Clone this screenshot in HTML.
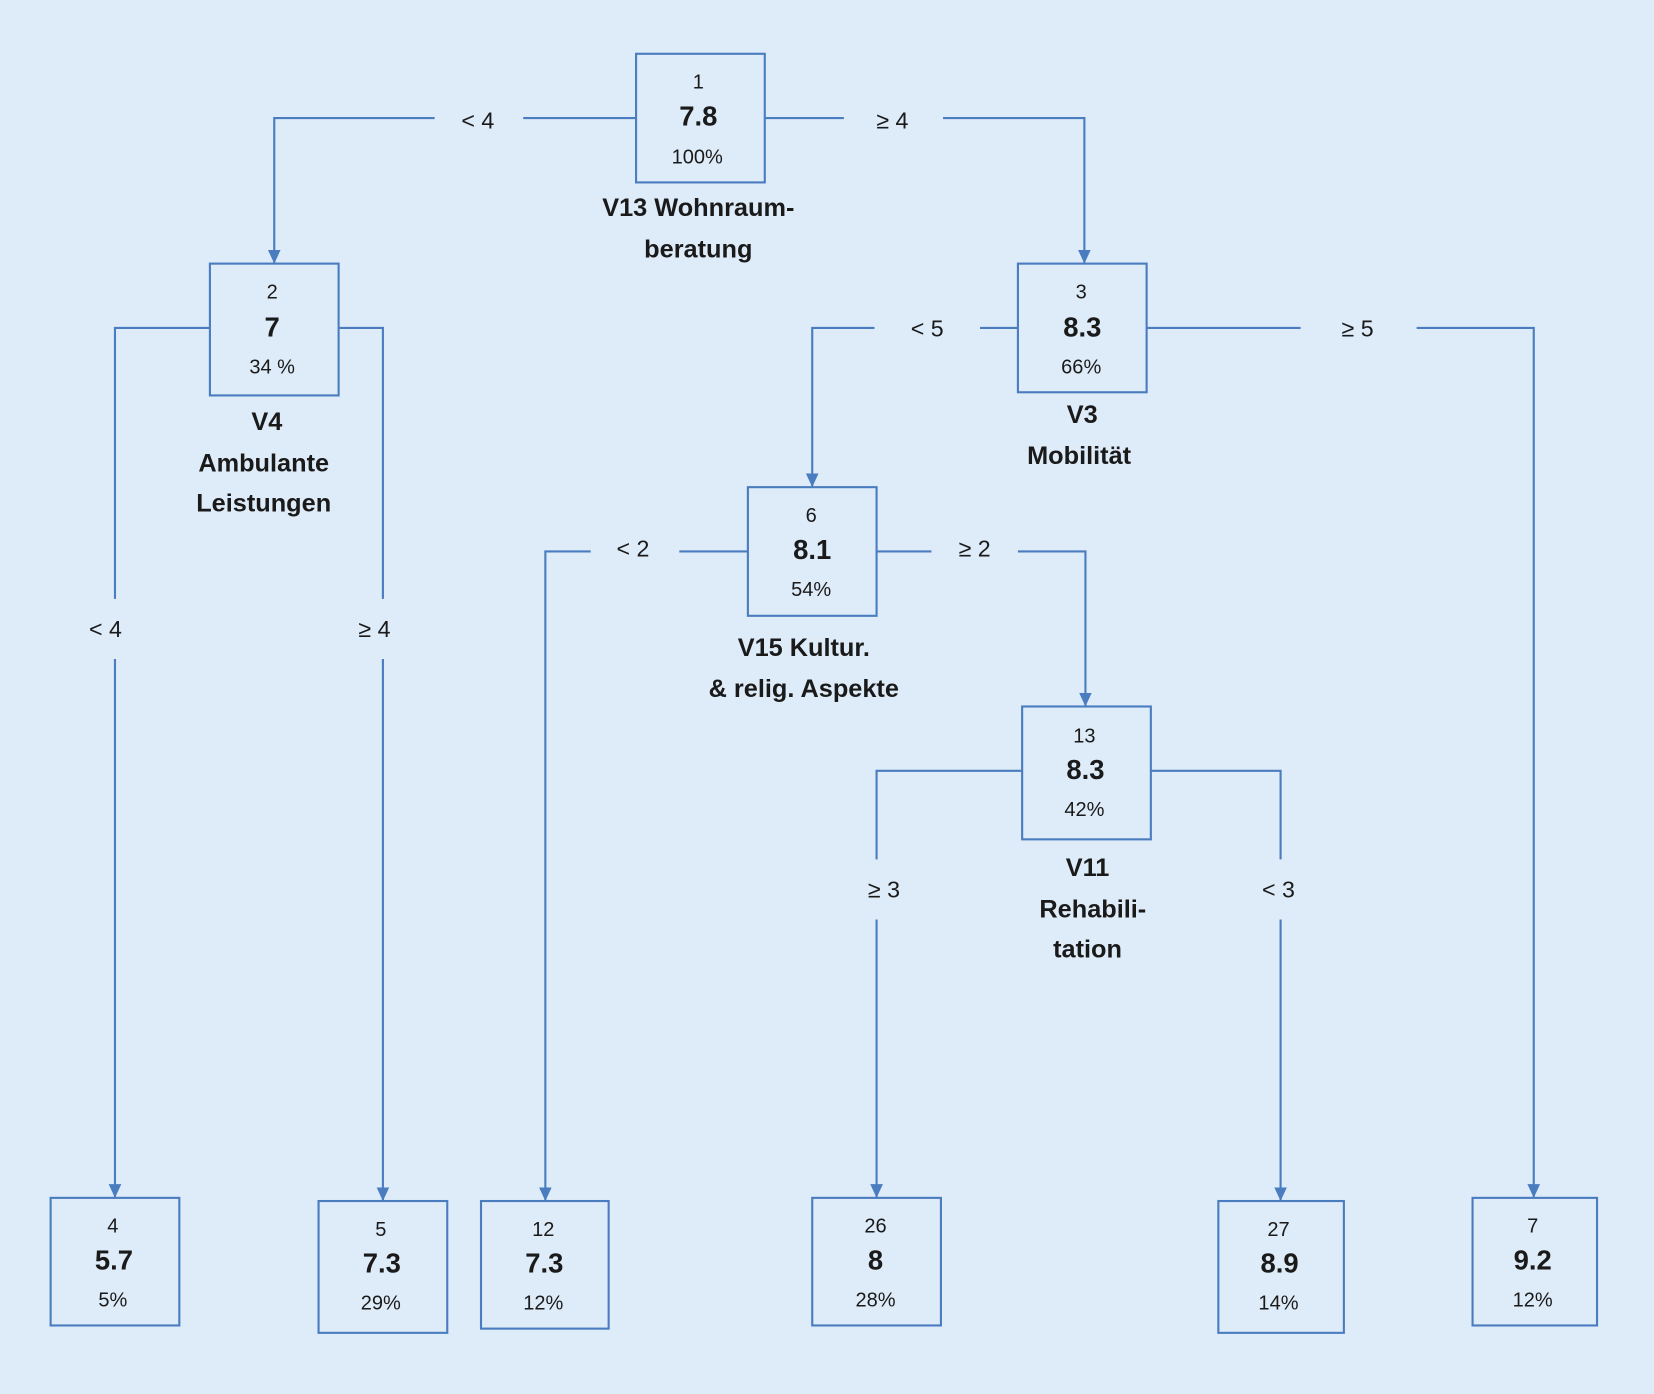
<!DOCTYPE html>
<html><head><meta charset="utf-8"><style>
html,body{margin:0;padding:0;background:#deebf8;}
svg{display:block}
text{font-family:"Liberation Sans",sans-serif;fill:#1a1a1a}
.s{font-size:19px}
.b{font-size:26px;font-weight:bold}
.l{font-size:24px;font-weight:bold}
.e{font-size:22px}
</style></head><body>
<svg width="1654" height="1394" viewBox="0 0 1568 1322" preserveAspectRatio="none" xmlns="http://www.w3.org/2000/svg">
<defs><marker id="a" markerWidth="10" markerHeight="10" refX="5" refY="9" orient="auto" markerUnits="userSpaceOnUse"><path d="M0,0 L10,0 L5,10 z" fill="#4a7cc0"/></marker>
<marker id="d" markerWidth="14" markerHeight="14" refX="7" refY="13" orient="0" markerUnits="userSpaceOnUse"><path d="M1,0 L13,0 L7,13 z" fill="#4a7cc0"/></marker></defs>
<rect width="1568" height="1322" fill="#deebf8"/>
<g fill="none" stroke="#4a7cc0" stroke-width="2">
<path d="M603,112 H496"/><path d="M412,112 H260 V250" marker-end="url(#d)"/>
<path d="M725,112 H800"/><path d="M894,112 H1028 V250" marker-end="url(#d)"/>
<path d="M199,311 H109 V568"/><path d="M109,625 V1136" marker-end="url(#d)"/>
<path d="M321,311 H363 V568"/><path d="M363,625 V1139" marker-end="url(#d)"/>
<path d="M965,311 H929"/><path d="M829,311 H770 V462" marker-end="url(#d)"/>
<path d="M1087,311 H1233"/><path d="M1343,311 H1454 V1136" marker-end="url(#d)"/>
<path d="M709,523 H644"/><path d="M560,523 H517 V1139" marker-end="url(#d)"/>
<path d="M831,523 H883"/><path d="M965,523 H1029 V670" marker-end="url(#d)"/>
<path d="M969,731 H831 V815"/><path d="M831,872 V1136" marker-end="url(#d)"/>
<path d="M1091,731 H1214 V815"/><path d="M1214,872 V1139" marker-end="url(#d)"/>
<rect x="603" y="51" width="122" height="122"/>
<rect x="199" y="250" width="122" height="125"/>
<rect x="965" y="250" width="122" height="122"/>
<rect x="709" y="462" width="122" height="122"/>
<rect x="969" y="670" width="122" height="126"/>
<rect x="48" y="1136" width="122" height="121"/>
<rect x="302" y="1139" width="122" height="125"/>
<rect x="456" y="1139" width="121" height="121"/>
<rect x="770" y="1136" width="122" height="121"/>
<rect x="1155" y="1139" width="119" height="125"/>
<rect x="1396" y="1136" width="118" height="121"/>
</g>
<g text-anchor="middle">
<text class="s" x="662" y="84">1</text><text class="b" x="662" y="119">7.8</text><text class="s" x="661" y="155">100%</text>
<text class="s" x="258" y="283">2</text><text class="b" x="258" y="319">7</text><text class="s" x="258" y="354">34 %</text>
<text class="s" x="1025" y="283">3</text><text class="b" x="1026" y="319">8.3</text><text class="s" x="1025" y="354">66%</text>
<text class="s" x="769" y="495">6</text><text class="b" x="770" y="530">8.1</text><text class="s" x="769" y="565">54%</text>
<text class="s" x="1028" y="704">13</text><text class="b" x="1029" y="739">8.3</text><text class="s" x="1028" y="774">42%</text>
<text class="s" x="107" y="1169">4</text><text class="b" x="108" y="1204">5.7</text><text class="s" x="107" y="1239">5%</text>
<text class="s" x="361" y="1172">5</text><text class="b" x="362" y="1207">7.3</text><text class="s" x="361" y="1242">29%</text>
<text class="s" x="515" y="1172">12</text><text class="b" x="516" y="1207">7.3</text><text class="s" x="515" y="1242">12%</text>
<text class="s" x="830" y="1169">26</text><text class="b" x="830" y="1204">8</text><text class="s" x="830" y="1239">28%</text>
<text class="s" x="1212" y="1172">27</text><text class="b" x="1213" y="1207">8.9</text><text class="s" x="1212" y="1242">14%</text>
<text class="s" x="1453" y="1169">7</text><text class="b" x="1453" y="1204">9.2</text><text class="s" x="1453" y="1239">12%</text>
<text class="l" x="662" y="205">V13 Wohnraum-</text><text class="l" x="662" y="244">beratung</text>
<text class="l" x="253" y="408">V4</text><text class="l" x="250" y="447">Ambulante</text><text class="l" x="250" y="485">Leistungen</text>
<text class="l" x="1026" y="401">V3</text><text class="l" x="1023" y="440">Mobilität</text>
<text class="l" x="762" y="622">V15 Kultur.</text><text class="l" x="762" y="661">&amp; relig. Aspekte</text>
<text class="l" x="1031" y="831">V11</text><text class="l" x="1036" y="870">Rehabili-</text><text class="l" x="1031" y="908">tation</text>
<text class="e" x="453" y="122">&lt; 4</text><text class="e" x="846" y="122">≥ 4</text>
<text class="e" x="100" y="604">&lt; 4</text><text class="e" x="355" y="604">≥ 4</text>
<text class="e" x="879" y="319">&lt; 5</text><text class="e" x="1287" y="319">≥ 5</text>
<text class="e" x="600" y="528">&lt; 2</text><text class="e" x="924" y="528">≥ 2</text>
<text class="e" x="838" y="851">≥ 3</text><text class="e" x="1212" y="851">&lt; 3</text>
</g>
</svg>
</body></html>
